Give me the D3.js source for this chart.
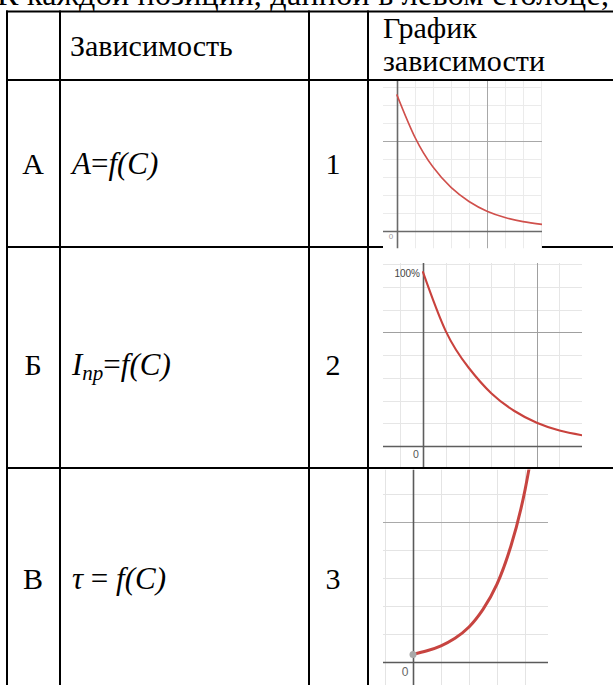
<!DOCTYPE html>
<html><head><meta charset="utf-8">
<script src="https://cdn.jsdelivr.net/npm/d3@7"></script>
<style>html,body{margin:0;padding:0;background:#fff;overflow:hidden}</style>
</head><body>
<script>
// ---- table content ----
const introText = "К каждой позиции, данной в левом столбце,";
const headerDep = "Зависимость";
const headerGraph = ["График", "зависимости"];
const rowLetters = ["А", "Б", "В"];
const rowNumbers = ["1", "2", "3"];

// ---- curve data (C in grid units, value in grid units) ----
const curve1C = [0, 1, 2, 3, 4, 5, 6, 7, 8.05];
const curve1V = [7.55, 5.2, 3.55, 2.42, 1.64, 1.1, 0.75, 0.52, 0.37];
const curve2C = [0, 1, 2, 3, 4, 5, 6, 7];
const curve2V = [7.64, 5.05, 3.45, 2.32, 1.55, 1.02, 0.68, 0.47];
const curve3C = [0, 0.5, 1, 1.5, 2, 2.5, 3, 3.5, 4, 4.5];
const curve3V = [0.27, 0.40, 0.58, 0.85, 1.25, 1.88, 2.78, 4.15, 6.14, 9.0];

const W = 613, H = 685;
const FS = 30;
const svg = d3.select("body").append("svg").attr("width", W).attr("height", H)
  .style("font-family", "'Liberation Serif','Times New Roman',serif");

// ---- layout ----
const colX = [7, 60, 309, 368];
const rowY = [11.5, 80, 247, 468];
const BORDER = 2;

// panel boxes: [x0, y0, x1, y1], axis origin in px, px per grid unit
const panelLayout = [
  { box: [383, 81, 542, 248.5], origin: [397, 231], unit: 18, curveW: 1.6, color: "#d0504c",
    minor: "#ebebeb", major: "#a8a8a8", axis: "#6a6a6a", zeroLbl: [391, 239, 8, "#9a9a9a"] },
  { box: [383, 263, 582, 469], origin: [423, 446], unit: 22.75, curveW: 2.1, color: "#c9423d",
    minor: "#e6e6e6", major: "#a0a0a0", axis: "#5e5e5e", zeroLbl: [416, 458, 10.5, "#555"] },
  { box: [383, 469.5, 548, 685], origin: [413, 662], unit: 28, curveW: 3, color: "#c74440",
    minor: "#e4e4e4", major: "#a9a9a9", axis: "#5a5a5a", zeroLbl: [405, 676, 12, "#666"] }
];
const curves = [[curve1C, curve1V], [curve2C, curve2V], [curve3C, curve3V]];

function drawPanel(i) {
  const L = panelLayout[i];
  const [x0, y0, x1, y1] = L.box;
  const [ox, oy] = L.origin;
  const x = d3.scaleLinear().domain([(x0 - ox) / L.unit, (x1 - ox) / L.unit]).range([x0, x1]);
  const y = d3.scaleLinear().domain([(oy - y1) / L.unit, (oy - y0) / L.unit]).range([y1, y0]);
  const g = svg.append("g");
  const clipId = "clip" + i;
  g.append("clipPath").attr("id", clipId).append("rect")
    .attr("x", x0).attr("y", y0).attr("width", x1 - x0).attr("height", y1 - y0);
  g.append("rect").attr("x", x0).attr("y", y0).attr("width", x1 - x0).attr("height", y1 - y0)
    .attr("fill", "#fff");
  const gc = g.append("g").attr("clip-path", `url(#${clipId})`);
  const xs = d3.range(Math.ceil(x.domain()[0]), Math.floor(x.domain()[1]) + 1);
  const ys = d3.range(Math.ceil(y.domain()[0]), Math.floor(y.domain()[1]) + 1);
  const kind = v => v === 0 ? 2 : (v % 5 === 0 ? 1 : 0);
  const col = k => [L.minor, L.major, L.axis][k];
  const wid = k => [1, 1, 1.6][k];
  for (const layer of [0, 1, 2]) {
    gc.selectAll(null).data(xs.filter(v => kind(v) === layer)).enter().append("line")
      .attr("x1", d => Math.round(x(d)) + 0.5).attr("x2", d => Math.round(x(d)) + 0.5)
      .attr("y1", y0).attr("y2", y1)
      .attr("stroke", col(layer)).attr("stroke-width", wid(layer));
    gc.selectAll(null).data(ys.filter(v => kind(v) === layer)).enter().append("line")
      .attr("y1", d => Math.round(y(d)) + 0.5).attr("y2", d => Math.round(y(d)) + 0.5)
      .attr("x1", x0).attr("x2", x1)
      .attr("stroke", col(layer)).attr("stroke-width", wid(layer));
  }
  const [cx, cy] = curves[i];
  const pts = cx.map((c, j) => [c, cy[j]]);
  const line = d3.line().x(d => x(d[0])).y(d => y(d[1])).curve(d3.curveNatural);
  gc.append("path").attr("d", line(pts)).attr("fill", "none")
    .attr("stroke", L.color).attr("stroke-width", L.curveW).attr("stroke-linecap", "round");
  const [lx, ly, fs, fc] = L.zeroLbl;
  g.append("text").attr("x", lx).attr("y", ly).attr("text-anchor", "middle")
    .attr("font-family", "Arial, 'Liberation Sans', sans-serif").attr("font-size", fs)
    .attr("fill", fc).text("0");
  return { g, x, y, gc };
}

// intro line (runs above the top edge of the page)
svg.append("text").attr("x", -3).attr("y", 5).attr("font-size", 32)
  .attr("textLength", 612).attr("lengthAdjust", "spacing").text(introText);

// graph 2 sits under the table rules
const p2 = drawPanel(1);
p2.g.append("text").attr("x", 420).attr("y", 277).attr("text-anchor", "end")
  .attr("font-family", "Arial, 'Liberation Sans', sans-serif").attr("font-size", 10)
  .attr("fill", "#444").text("100%");

// table rules
rowY.forEach(yv => svg.append("line").attr("x1", colX[0] - 1).attr("x2", W)
  .attr("y1", yv).attr("y2", yv).attr("stroke", "#000").attr("stroke-width", BORDER));
colX.forEach(xv => svg.append("line").attr("x1", xv).attr("x2", xv)
  .attr("y1", rowY[0] - 1).attr("y2", H).attr("stroke", "#000").attr("stroke-width", BORDER));

drawPanel(0);
const p3 = drawPanel(2);
// starting point marker on curve 3
p3.g.append("circle").attr("cx", p3.x(curve3C[0])).attr("cy", p3.y(curve3V[0])).attr("r", 3.5)
  .attr("fill", "#a9a9a9");

// header texts
svg.append("text").attr("x", 70).attr("y", 56).attr("font-size", FS).text(headerDep);
svg.append("text").attr("x", 383).attr("y", 38).attr("font-size", FS).text(headerGraph[0]);
svg.append("text").attr("x", 383).attr("y", 71).attr("font-size", FS).text(headerGraph[1]);

// rows
const baselines = [174, 375, 589];
rowLetters.forEach((t, i) => svg.append("text").attr("x", 33).attr("y", baselines[i])
  .attr("text-anchor", "middle").attr("font-size", FS).text(t));
rowNumbers.forEach((t, i) => svg.append("text").attr("x", 333).attr("y", baselines[i])
  .attr("text-anchor", "middle").attr("font-size", FS).text(t));

// formulas
const FF = 31;
const f1 = svg.append("text").attr("x", 72).attr("y", baselines[0]).attr("font-size", FF);
f1.append("tspan").attr("font-style", "italic").text("A");
f1.append("tspan").text("=");
f1.append("tspan").attr("font-style", "italic").text("f(C)");

const f2 = svg.append("text").attr("x", 72).attr("y", baselines[1]).attr("font-size", FF);
f2.append("tspan").attr("font-style", "italic").text("I");
f2.append("tspan").attr("font-style", "italic").attr("font-size", 21).attr("dy", 5).text("пр");
f2.append("tspan").attr("dy", -5).text("=");
f2.append("tspan").attr("font-style", "italic").text("f(C)");

const f3 = svg.append("text").attr("x", 72).attr("y", baselines[2]).attr("font-size", FF);
f3.append("tspan").attr("font-style", "italic").text("τ");
f3.append("tspan").text(" = ");
f3.append("tspan").attr("font-style", "italic").text("f(C)");
</script>
</body></html>
